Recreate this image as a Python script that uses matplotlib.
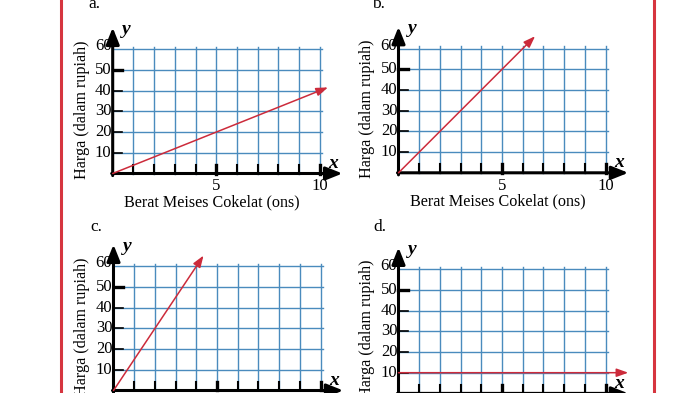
import matplotlib
matplotlib.use('Agg')
import matplotlib.pyplot as plt
from matplotlib.lines import Line2D

plt.rcParams['font.family'] = ['Liberation Serif', 'DejaVu Serif']

# ---------------- data ----------------
panel_labels = ['a.', 'b.', 'c.', 'd.']
line_x0 = [0, 0, 0, 0]
line_y0 = [0, 0, 0, 10]
line_x1 = [10.4, 6.6, 4.35, 11.1]
line_y1 = [41.6, 66, 65.2, 10]
x_tick_labels = [5, 10]
y_tick_values = [10, 20, 30, 40, 50, 60]
x_grid = list(range(1, 11))
x_label = 'Berat Meises Cokelat (ons)'
y_label = 'Harga (dalam rupiah)'

# ---------------- layout ----------------
W, H = 700, 393
fig = plt.figure(figsize=(7, 3.93), dpi=100)
fig.patch.set_facecolor('white')

origins = [(112.7, 173.5), (398.5, 172.8), (113.5, 390.5), (398.5, 393.4)]
label_pos = [(88, 4), (372, 4), (90, 227), (373, 227)]
show_x_labels = [True, True, False, False]   # bottom row labels fall below the crop
sx, sy = 20.7, 2.07
XMIN, XMAX, YMIN, YMAX = -2.0, 12.0, -16.0, 75.0

GRID = '#4a8bbd'
RED = '#cc2b3b'
BORDER = '#d6353f'

for i in range(4):
    ox, oy = origins[i]
    ax = fig.add_axes([(ox + XMIN * sx) / W, 1 - (oy - YMIN * sy) / H,
                       (XMAX - XMIN) * sx / W, (YMAX - YMIN) * sy / H])
    ax.set_xlim(XMIN, XMAX)
    ax.set_ylim(YMIN, YMAX)
    ax.axis('off')

    # grid
    for gx in x_grid:
        ax.plot([gx, gx], [0, 61.2], color=GRID, lw=1.0, clip_on=False, zorder=1)
    for gy in y_tick_values:
        ax.plot([0, 10.12], [gy, gy], color=GRID, lw=1.0, clip_on=False, zorder=1)

    # axes with arrows
    ax.annotate('', xy=(0, 70.5), xytext=(0, -1.0),
                arrowprops=dict(arrowstyle='-|>,head_length=1.0,head_width=0.4',
                                mutation_scale=10, lw=2.2, color='black',
                                shrinkA=0, shrinkB=0), zorder=4)
    ax.annotate('', xy=(11.1, 0), xytext=(-0.05, 0),
                arrowprops=dict(arrowstyle='-|>,head_length=1.0,head_width=0.4',
                                mutation_scale=10, lw=2.2, color='black',
                                shrinkA=0, shrinkB=0), zorder=4)

    # ticks
    for gx in x_grid:
        ax.plot([gx, gx], [0, 4.2], color='black',
                lw=2.4 if gx in x_tick_labels else 1.5, clip_on=False, zorder=3)
    for gy in y_tick_values[:-1]:
        ax.plot([0, 0.45], [gy, gy], color='black',
                lw=2.4 if gy == 50 else 1.2, clip_on=False, zorder=3)

    # tick labels
    for gy in y_tick_values:
        ax.text(-0.06, gy + (1.4 if gy == 60 else 0), str(gy),
                ha='right', va='center', fontsize=12)
    if show_x_labels[i]:
        for xt in x_tick_labels:
            ax.text(xt, -6.2, str(xt), ha='center', va='center', fontsize=12)
        ax.text(4.8, -13.8, x_label, ha='center', va='center', fontsize=11.6)

    ax.text(-1.5, 31.0, y_label, ha='center', va='center', rotation=90, fontsize=11.6)
    ax.text(10.67, 5, 'x', ha='center', va='center', fontsize=14,
            fontstyle='italic', fontweight='bold')
    ax.text(0.45, 69.5, 'y', ha='left', va='center', fontsize=14,
            fontstyle='italic', fontweight='bold')

    # red line
    ax.annotate('', xy=(line_x1[i], line_y1[i]), xytext=(line_x0[i], line_y0[i]),
                arrowprops=dict(arrowstyle='-|>,head_length=0.7,head_width=0.25',
                                mutation_scale=10, lw=1.1, color=RED,
                                shrinkA=0, shrinkB=0), zorder=5)

    # panel label
    lx, ly = label_pos[i]
    fig.text(lx / W, 1 - ly / H, panel_labels[i], ha='left', va='center', fontsize=12.5)

# red border lines
for bx in (60.7, 654.3):
    fig.add_artist(Line2D([bx / W, bx / W], [0, 1], transform=fig.transFigure,
                          color=BORDER, lw=2.2))

fig.savefig('out.png', dpi=100, facecolor='white')
